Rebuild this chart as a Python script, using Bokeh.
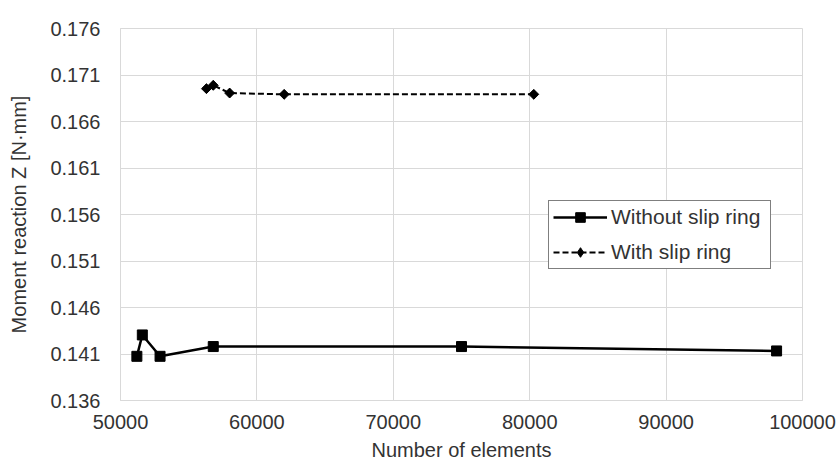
import math
from bokeh.plotting import figure
from bokeh.models import Range1d, FixedTicker, Legend, LegendItem
from bokeh.embed import file_html
from bokeh.resources import INLINE

# Data
x_without = [51200, 51600, 52900, 56800, 75000, 98100]
y_without = [0.14075, 0.14305, 0.14075, 0.14180, 0.14180, 0.14133]

x_with = [56300, 56800, 58000, 62000, 80300]
y_with = [0.16953, 0.16989, 0.16906, 0.16892, 0.16892]

x_ticks = [50000, 60000, 70000, 80000, 90000, 100000]
x_tick_labels = ["50000", "60000", "70000", "80000", "90000", "100000"]
y_ticks = [0.136, 0.141, 0.146, 0.151, 0.156, 0.161, 0.166, 0.171, 0.176]
y_tick_labels = ["0.136", "0.141", "0.146", "0.151", "0.156", "0.161", "0.166", "0.171", "0.176"]

series_labels = ["Without slip ring", "With slip ring"]

FONT = "Liberation Sans"
TEXT = "#333333"
GRID = "#d9d9d9"

p = figure(width=838, height=463, output_backend="svg", toolbar_location=None,
           x_range=Range1d(50000, 100000), y_range=Range1d(0.136, 0.176),
           min_border_left=120, min_border_right=36, min_border_top=28,
           min_border_bottom=63)

p.background_fill_color = "white"
p.border_fill_color = "white"
p.outline_line_color = GRID
p.outline_line_width = 1

for ax in (p.xaxis[0], p.yaxis[0]):
    ax.axis_line_color = GRID
    ax.major_tick_line_color = None
    ax.minor_tick_line_color = None
    ax.major_tick_out = 0
    ax.major_tick_in = 0
    ax.major_label_text_font = FONT
    ax.major_label_text_font_size = "20px"
    ax.major_label_text_color = TEXT
    ax.axis_label_text_font = FONT
    ax.axis_label_text_font_size = "20px"
    ax.axis_label_text_font_style = "normal"
    ax.axis_label_text_color = TEXT

p.xaxis.ticker = FixedTicker(ticks=x_ticks)
p.xaxis.major_label_overrides = {t: l for t, l in zip(x_ticks, x_tick_labels)}
p.yaxis.ticker = FixedTicker(ticks=y_ticks)
p.yaxis.major_label_overrides = {t: l for t, l in zip(y_ticks, y_tick_labels)}

p.xaxis.axis_label = "Number of elements"
p.yaxis.axis_label = "Moment reaction Z [N·mm]"
p.xaxis.major_label_standoff = 14
p.xaxis.axis_label_standoff = 7
p.yaxis.major_label_standoff = 20
p.yaxis.axis_label_standoff = 17

p.xgrid.grid_line_color = GRID
p.ygrid.grid_line_color = GRID
p.xgrid.grid_line_width = 1
p.ygrid.grid_line_width = 1

l1 = p.line(x_without, y_without, line_color="black", line_width=2.5)
m1 = p.scatter(x_without, y_without, marker="square", size=10,
               fill_color="black", line_color="black")

l2 = p.line(x_with, y_with, line_color="black", line_width=2, line_dash="6 3")
# diamond glyph (used for the legend), covered by the rotated squares below
m2_leg = p.scatter(x_with, y_with, marker="diamond", size=9,
                   fill_color="black", line_color="black", line_width=1)
m2 = p.scatter(x_with, y_with, marker="square", size=7, angle=math.pi / 4,
               fill_color="black", line_color="black")

legend = Legend(items=[LegendItem(label=series_labels[0], renderers=[l1, m1]),
                       LegendItem(label=series_labels[1], renderers=[l2, m2_leg])],
                location=(428, 131))
legend.label_text_font = FONT
legend.label_text_font_size = "21px"
legend.label_text_color = TEXT
legend.border_line_color = "black"
legend.border_line_width = 1
legend.background_fill_color = "white"
legend.background_fill_alpha = 1
legend.padding = 4
legend.spacing = 11
legend.margin = 0
legend.glyph_width = 54
legend.glyph_height = 24
legend.label_height = 24
legend.label_width = 155
legend.label_standoff = 4
p.add_layout(legend, "center")

open("out.html", "w").write(file_html(p, INLINE))
